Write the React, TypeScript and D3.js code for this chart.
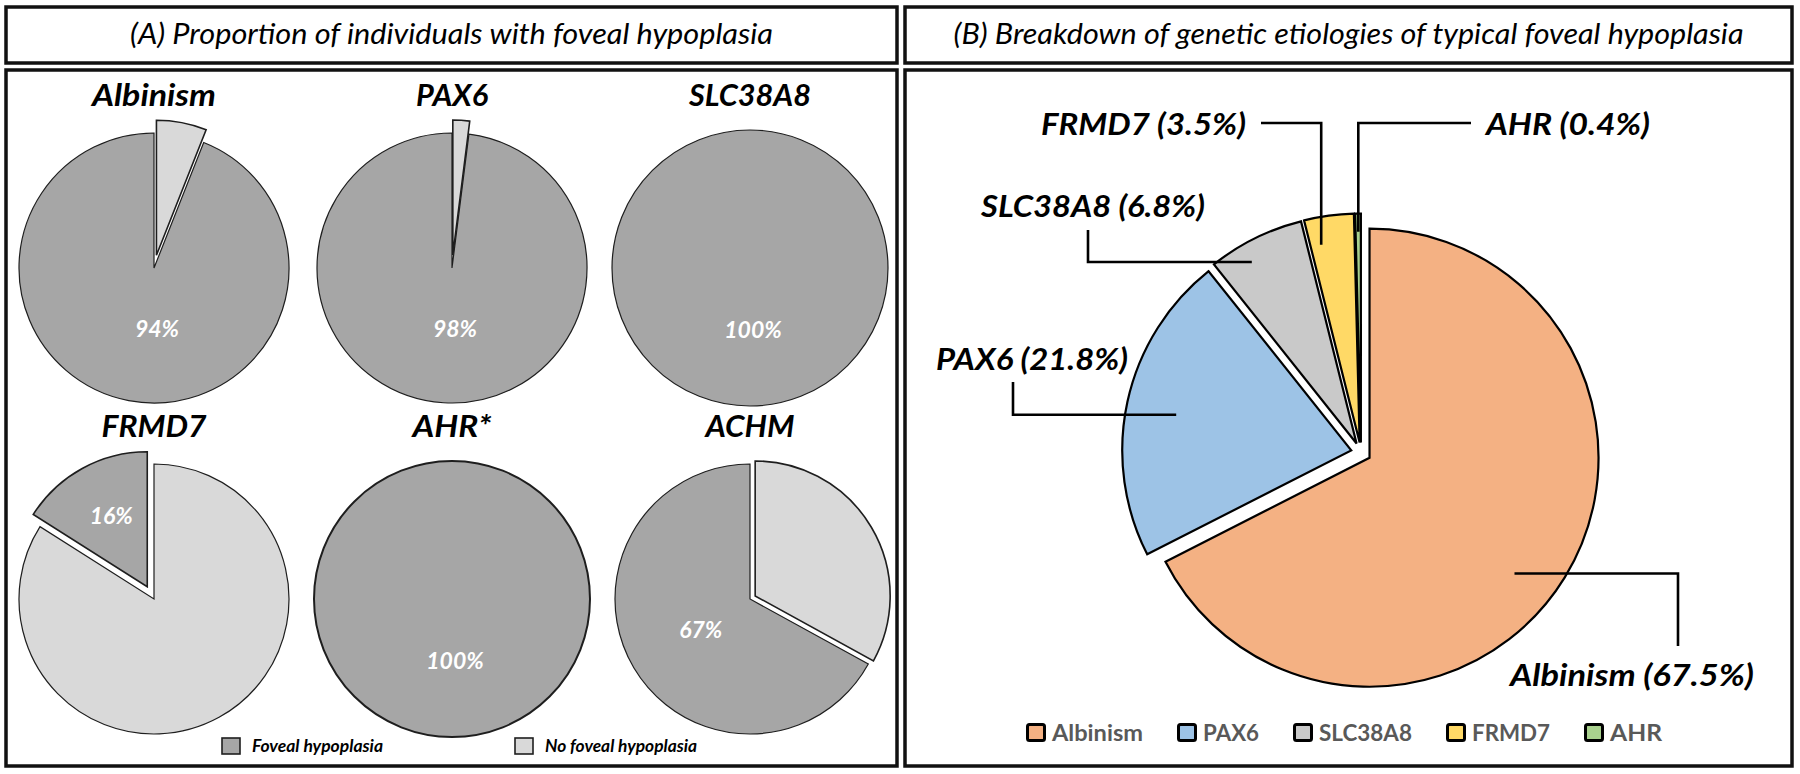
import React from 'react';
import * as d3 from 'd3';

const W = 1800;
const H = 774;
const FONT = "Lato, 'Open Sans', 'DejaVu Sans', sans-serif";

// ---------- Panel A data ----------
const genesA = ['Albinism', 'PAX6', 'SLC38A8', 'FRMD7', 'AHR*', 'ACHM'];
const fovealPct = [94, 98, 100, 16, 100, 67];
const noFovealPct = [6, 2, 0, 84, 0, 33];
const legendA = ['Foveal hypoplasia', 'No foveal hypoplasia'];

// ---------- Panel B data ----------
const etiologies = ['Albinism', 'PAX6', 'SLC38A8', 'FRMD7', 'AHR'];
const etiologyPct = [67.5, 21.8, 6.8, 3.5, 0.4];
const etiologyColors = ['#f4b183', '#9dc3e6', '#c9c9c9', '#ffd966', '#a9d18e'];

const titleA = '(A) Proportion of individuals with foveal hypoplasia';
const titleB = '(B) Breakdown of genetic etiologies of typical foveal hypoplasia';

// ---------- layout / style constants ----------
const COLOR_FOVEAL = '#a6a6a6';
const COLOR_NOFOVEAL = '#d9d9d9';
const explodeA = [13, 13, 0, 14, 0, 6];
const titleWidthsA = [124, 72, 122, 105, 79, 89];
const legendWidthsA = [131, 152];
const legendWidthsB = [91, 56, 93, 78, 52];

// label layout for panel B: text position, width, leader anchor (angle deg, radius fraction)
const labelLayoutB = [
  { x: 1510, y: 686, w: 244, ang: 128.6, frac: 0.81 },
  { x: 936, y: 370, w: 192, ang: 281.5, frac: 0.78 },
  { x: 981, y: 217, w: 224, ang: 330, frac: 0.915 },
  { x: 1041, y: 135, w: 205, ang: 349, frac: 0.88 },
  { x: 1486, y: 135, w: 164, ang: 359.3, frac: 0.92 },
];

const polar = (ang: number, r: number): [number, number] => [Math.sin(ang) * r, -Math.cos(ang) * r];

function PanelAPie({ i }: { i: number }) {
  const colX = d3.scalePoint<number>().domain([0, 1, 2]).range([154, 750]);
  const rowY = d3.scalePoint<number>().domain([0, 1]).range([268, 599]);
  const cx = colX(i % 3) as number;
  const cy = rowY(Math.floor(i / 3)) as number;
  const values = [noFovealPct[i], fovealPct[i]];
  const partial = values[0] > 0 && values[1] > 0;
  const r = partial ? 135 : 138;
  const pie = d3.pie<number>().sort(null).value((d) => d);
  const arcs = pie(values);
  const arcGen = d3.arc<d3.PieArcDatum<number>>().innerRadius(0).outerRadius(r);
  const explodedIdx = partial ? (values[0] < values[1] ? 0 : 1) : -1;
  const offset = (k: number): [number, number] => {
    if (k !== explodedIdx) return [0, 0];
    const a = arcs[k];
    return polar((a.startAngle + a.endAngle) / 2, explodeA[i]);
  };
  const order = [0, 1].filter((k) => values[k] > 0).sort((a, b) => (a === explodedIdx ? 1 : 0) - (b === explodedIdx ? 1 : 0));
  const fov = arcs[1];
  const labAng = fovealPct[i] >= 90 ? Math.PI : (fov.startAngle + fov.endAngle) / 2;
  const labFrac = fovealPct[i] < 25 ? 0.6 : 0.45;
  const [ox, oy] = offset(1);
  const [lx, ly] = polar(labAng, labFrac * r);
  const strokeW = partial ? 1.2 : i === 4 ? 2 : 1.2;
  return (
    <g>
      <text
        x={cx}
        y={cy - 162}
        textAnchor="middle"
        fontFamily={FONT}
        fontWeight={700}
        fontStyle="italic"
        fontSize={30}
        textLength={titleWidthsA[i]}
        lengthAdjust="spacingAndGlyphs"
        fill="#000"
      >
        {genesA[i]}
      </text>
      <g transform={`translate(${cx},${cy})`}>
        {order.map((k) => {
          const [dx, dy] = offset(k);
          return (
            <path
              key={k}
              d={arcGen(arcs[k]) as string}
              transform={`translate(${dx},${dy})`}
              fill={k === 0 ? COLOR_NOFOVEAL : COLOR_FOVEAL}
              stroke="#1e1e1e"
              strokeWidth={k === explodedIdx ? 1.6 : strokeW}
              strokeLinejoin="miter"
            />
          );
        })}
        <text
          x={ox + lx + 3}
          y={oy + ly}
          dy="0.36em"
          textAnchor="middle"
          fontFamily={FONT}
          fontWeight={700}
          fontStyle="italic"
          fontSize={23}
          fill="#ffffff"
        >
          {`${fovealPct[i]}%`}
        </text>
      </g>
    </g>
  );
}

function PanelB() {
  const C: [number, number] = [1361, 452.5];
  const r = 229;
  const explode = 10;
  const pie = d3.pie<number>().sort(null).value((d) => d);
  const arcs = pie(etiologyPct);
  const arcGen = d3.arc<d3.PieArcDatum<number>>().innerRadius(0).outerRadius(r);
  const offs = arcs.map((a) => polar((a.startAngle + a.endAngle) / 2, explode));
  const anchors = arcs.map((a, k) => {
    const L = labelLayoutB[k];
    const [px, py] = polar((L.ang * Math.PI) / 180, L.frac * r);
    return [C[0] + offs[k][0] + px, C[1] + offs[k][1] + py];
  });
  const leader = (k: number) => {
    const L = labelLayoutB[k];
    const [ax, ay] = anchors[k];
    if (k === 0) return `M${ax},${ay}H${L.x + 168}V${L.y - 40}`;
    if (k === 1) return `M${L.x + 77},${L.y + 12}V${ay}H${ax}`;
    if (k === 2) return `M${L.x + 107},${L.y + 13}V${ay}H${ax}`;
    if (k === 3) return `M${L.x + L.w + 15},${L.y - 12}H${ax}V${ay}`;
    return `M${L.x - 15},${L.y - 12}H${ax}V${ay}`;
  };
  let lx = 1026;
  const legendItems = etiologies.map((name, k) => {
    const item = { name, k, boxX: lx, textX: lx + 26 };
    lx = lx + 26 + legendWidthsB[k] + 34;
    return item;
  });
  return (
    <g>
      <g transform={`translate(${C[0]},${C[1]})`}>
        {arcs.map((a, k) => (
          <path
            key={k}
            d={arcGen(a) as string}
            transform={`translate(${offs[k][0]},${offs[k][1]})`}
            fill={etiologyColors[k]}
            stroke="#000"
            strokeWidth={2.2}
            strokeLinejoin="miter"
          />
        ))}
      </g>
      {arcs.map((a, k) => (
        <path key={`l${k}`} d={leader(k)} fill="none" stroke="#000" strokeWidth={2.6} />
      ))}
      {etiologies.map((name, k) => (
        <text
          key={`t${k}`}
          x={labelLayoutB[k].x}
          y={labelLayoutB[k].y}
          fontFamily={FONT}
          fontWeight={700}
          fontStyle="italic"
          fontSize={30}
          textLength={labelLayoutB[k].w}
          lengthAdjust="spacingAndGlyphs"
          fill="#000"
        >
          {`${name} (${etiologyPct[k]}%)`}
        </text>
      ))}
      {legendItems.map((it) => (
        <g key={`lg${it.k}`}>
          <rect
            x={it.boxX + 1.5}
            y={724.5}
            width={17}
            height={16}
            rx={2}
            fill={etiologyColors[it.k]}
            stroke="#000"
            strokeWidth={3}
          />
          <text
            x={it.textX}
            y={741}
            fontFamily={FONT}
            fontWeight={700}
            fontSize={23}
            fill="#595959"
            textLength={legendWidthsB[it.k]}
            lengthAdjust="spacingAndGlyphs"
          >
            {it.name}
          </text>
        </g>
      ))}
    </g>
  );
}

export default function App() {
  const boxStroke = '#111';
  return (
    <div style={{ position: 'fixed', left: 0, top: 0, width: W, height: H, background: '#fff' }}>
      <svg width={W} height={H} viewBox={`0 0 ${W} ${H}`} style={{ display: 'block' }}>
        <rect x={0} y={0} width={W} height={H} fill="#fff" />
        {/* frames */}
        <rect x={6} y={7} width={891} height={56} fill="none" stroke={boxStroke} strokeWidth={3.5} />
        <rect x={6} y={70} width={891} height={696} fill="none" stroke={boxStroke} strokeWidth={3.5} />
        <rect x={905} y={7} width={887} height={56} fill="none" stroke={boxStroke} strokeWidth={3.5} />
        <rect x={905} y={70} width={887} height={696} fill="none" stroke={boxStroke} strokeWidth={3.5} />
        {/* headers */}
        <text
          x={451.5}
          y={44}
          textAnchor="middle"
          fontFamily={FONT}
          fontStyle="italic"
          fontSize={28.5}
          textLength={643}
          lengthAdjust="spacingAndGlyphs"
          fill="#000"
        >
          {titleA}
        </text>
        <text
          x={1348.5}
          y={44}
          textAnchor="middle"
          fontFamily={FONT}
          fontStyle="italic"
          fontSize={28.5}
          textLength={790}
          lengthAdjust="spacingAndGlyphs"
          fill="#000"
        >
          {titleB}
        </text>
        {/* panel A */}
        {genesA.map((g, i) => (
          <PanelAPie key={g} i={i} />
        ))}
        {legendA.map((name, k) => {
          const bx = k === 0 ? 222 : 515;
          return (
            <g key={name}>
              <rect
                x={bx}
                y={738}
                width={18}
                height={16}
                fill={k === 0 ? COLOR_FOVEAL : COLOR_NOFOVEAL}
                stroke="#1e1e1e"
                strokeWidth={1.6}
              />
              <text
                x={bx + 30}
                y={752}
                fontFamily={FONT}
                fontWeight={700}
                fontStyle="italic"
                fontSize={16.5}
                textLength={legendWidthsA[k]}
                lengthAdjust="spacingAndGlyphs"
                fill="#000"
              >
                {name}
              </text>
            </g>
          );
        })}
        {/* panel B */}
        <PanelB />
      </svg>
    </div>
  );
}
